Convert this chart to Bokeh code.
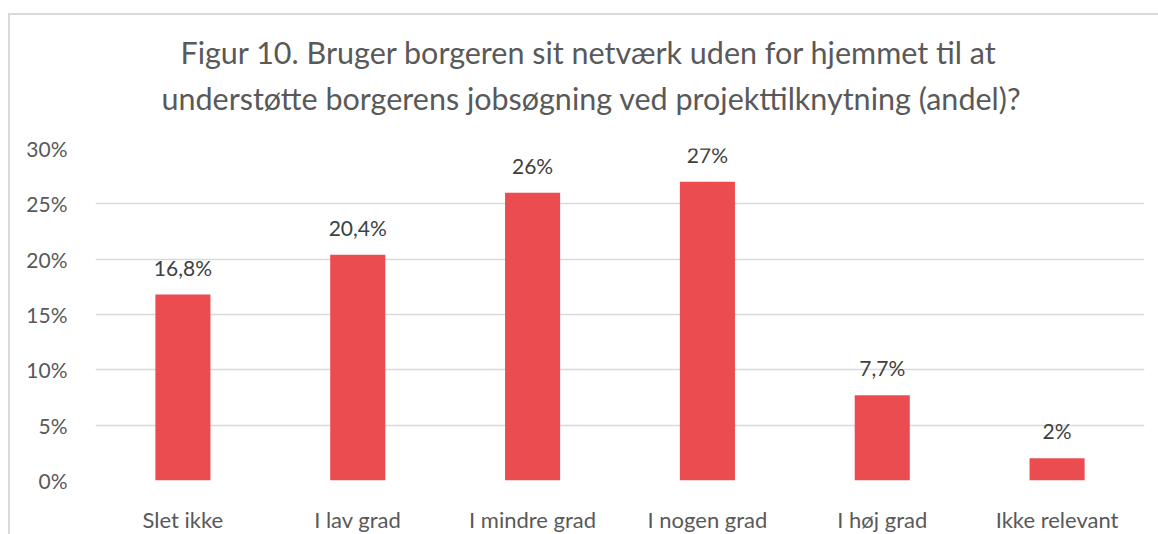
from bokeh.plotting import figure
from bokeh.models import ColumnDataSource, LabelSet, Title, FixedTicker, CustomJSTickFormatter
from bokeh.core.properties import value
from bokeh.embed import file_html
from bokeh.resources import INLINE

categories = ["Slet ikke", "I lav grad", "I mindre grad", "I nogen grad", "I høj grad", "Ikke relevant"]
values = [16.8, 20.4, 26, 27, 7.7, 2]
value_labels = ["16,8%", "20,4%", "26%", "27%", "7,7%", "2%"]
y_ticks = [0, 5, 10, 15, 20, 25, 30]
title_lines = ["Figur 10. Bruger borgeren sit netværk uden for hjemmet til at",
               "understøtte borgerens jobsøgning ved projekttilknytning (andel)?"]

FONT = "Lato"
source = ColumnDataSource(dict(cat=categories, val=values, lab=value_labels))

p = figure(x_range=categories, y_range=(0, 30), frame_width=1049, frame_height=332,
           output_backend="svg", toolbar_location=None, title=None,
           min_border_left=85, min_border_right=16, min_border_top=133, min_border_bottom=50)
p.margin = (13, 0, 0, 8)
p.styles = {"border-top": "2px solid #d9d9d9", "border-left": "2px solid #d9d9d9"}

p.vbar(x="cat", top="val", width=0.315, source=source, color="#EB4C50", line_color=None)

t2 = Title(text=title_lines[1], align="left", offset=66, text_font=FONT, text_font_size="30.5px",
           text_font_style="normal", text_color="#595959", standoff=66)
t1 = Title(text=title_lines[0], align="left", offset=85, text_font=FONT, text_font_size="30.5px",
           text_font_style="normal", text_color="#595959", standoff=-50)
p.add_layout(t2, "above")
p.add_layout(t1, "above")

labels = LabelSet(x="cat", y="val", text="lab", source=source, text_align="center",
                  text_baseline="bottom", y_offset=15, text_font=value(FONT),
                  text_font_size="21px", text_color="#404040")
p.add_layout(labels)

p.yaxis.ticker = FixedTicker(ticks=y_ticks)
p.yaxis.formatter = CustomJSTickFormatter(code="return tick + '%';")
p.yaxis.axis_line_color = None
p.yaxis.major_tick_line_color = None
p.yaxis.minor_tick_line_color = None
p.yaxis.major_label_text_font = FONT
p.yaxis.major_label_text_font_size = "21px"
p.yaxis.major_label_text_color = "#595959"
p.yaxis.major_label_standoff = 22

p.xaxis.axis_line_color = None
p.xaxis.major_tick_line_color = None
p.xaxis.major_label_text_font = FONT
p.xaxis.major_label_text_font_size = "22px"
p.xaxis.major_label_text_color = "#595959"
p.xaxis.major_label_standoff = 19

p.xgrid.grid_line_color = None
p.ygrid.grid_line_color = "#d9d9d9"
p.ygrid.grid_line_width = 1.5
p.outline_line_color = None
p.x_range.range_padding = 0

open("out.html", "w").write(file_html(p, INLINE))
